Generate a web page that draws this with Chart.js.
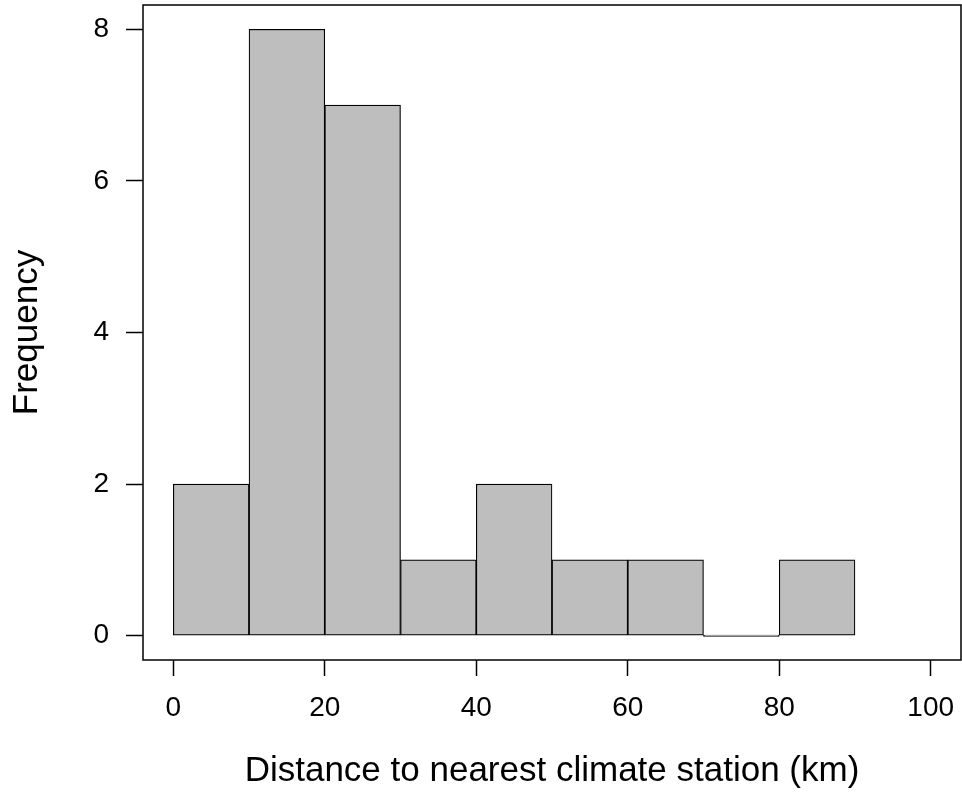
<!DOCTYPE html>
<html>
<head>
<meta charset="utf-8">
<script src="https://cdn.jsdelivr.net/npm/chart.js@4/dist/chart.umd.min.js"></script>
<style>
  html, body { margin: 0; padding: 0; background: #fff; }
  #wrap { width: 962px; height: 795px; }
</style>
</head>
<body>
<div id="wrap"><canvas id="c" width="962" height="795"></canvas></div>
<script>
// Histogram bins (km) and counts
const binCenters = [5, 15, 25, 35, 45, 55, 65, 75, 85];
const counts     = [2, 8, 7, 1, 2, 1, 1, 0, 1];
const xTicks = [0, 20, 40, 60, 80, 100];
const yTicks = [0, 2, 4, 6, 8];
const xTitle = 'Distance to nearest climate station (km)';
const yTitle = 'Frequency';

const FONT = "'Liberation Sans', Arial, Helvetica, sans-serif";

const boxPlugin = {
  id: 'box',
  afterDraw(chart) {
    const { ctx, chartArea: a } = chart;
    ctx.save();
    ctx.strokeStyle = '#000';
    ctx.lineWidth = 1.5;
    ctx.strokeRect(a.left, a.top, a.right - a.left, a.bottom - a.top);
    ctx.restore();
  }
};

new Chart(document.getElementById('c'), {
  type: 'bar',
  data: {
    datasets: [{
      data: binCenters.map((x, i) => ({ x: x, y: counts[i] })),
      backgroundColor: '#BEBEBE',
      borderColor: '#000',
      borderWidth: 1.2,
      borderSkipped: false,
      barPercentage: 1,
      categoryPercentage: 1,
      minBarLength: 1.5
    }]
  },
  options: {
    responsive: false,
    animation: false,
    devicePixelRatio: 1,
    layout: { padding: { top: 5, right: 1, left: 0, bottom: 0 } },
    plugins: { legend: { display: false }, tooltip: { enabled: false } },
    scales: {
      x: {
        type: 'linear',
        min: -4, max: 104,
        offset: false,
        afterBuildTicks: (axis) => { axis.ticks = xTicks.map(v => ({ value: v })); },
        afterFit: (s) => { s.height = 135; s.paddingLeft = 0; s.paddingRight = 0; },
        grid: { offset: false, drawOnChartArea: false, drawTicks: true, tickLength: 16, tickColor: '#000', tickWidth: 1.5 },
        border: { display: false },
        ticks: { color: '#000', font: { family: FONT, size: 28 }, padding: 15, maxRotation: 0, autoSkip: false },
        title: { display: true, text: xTitle, color: '#000', font: { family: FONT, size: 35 }, padding: { top: 0, bottom: 3 } }
      },
      y: {
        type: 'linear',
        min: -0.32, max: 8.32,
        afterBuildTicks: (axis) => { axis.ticks = yTicks.map(v => ({ value: v })); },
        afterFit: (s) => { s.width = 143; s.paddingTop = 0; s.paddingBottom = 0; },
        grid: { offset: false, drawOnChartArea: false, drawTicks: true, tickLength: 17, tickColor: '#000', tickWidth: 1.5 },
        border: { display: false },
        ticks: { color: '#000', font: { family: FONT, size: 28 }, padding: 17, autoSkip: false },
        title: { display: true, text: yTitle, color: '#000', font: { family: FONT, size: 35 }, padding: { top: 6, bottom: 0 } }
      }
    }
  },
  plugins: [boxPlugin]
});
</script>
</body>
</html>
